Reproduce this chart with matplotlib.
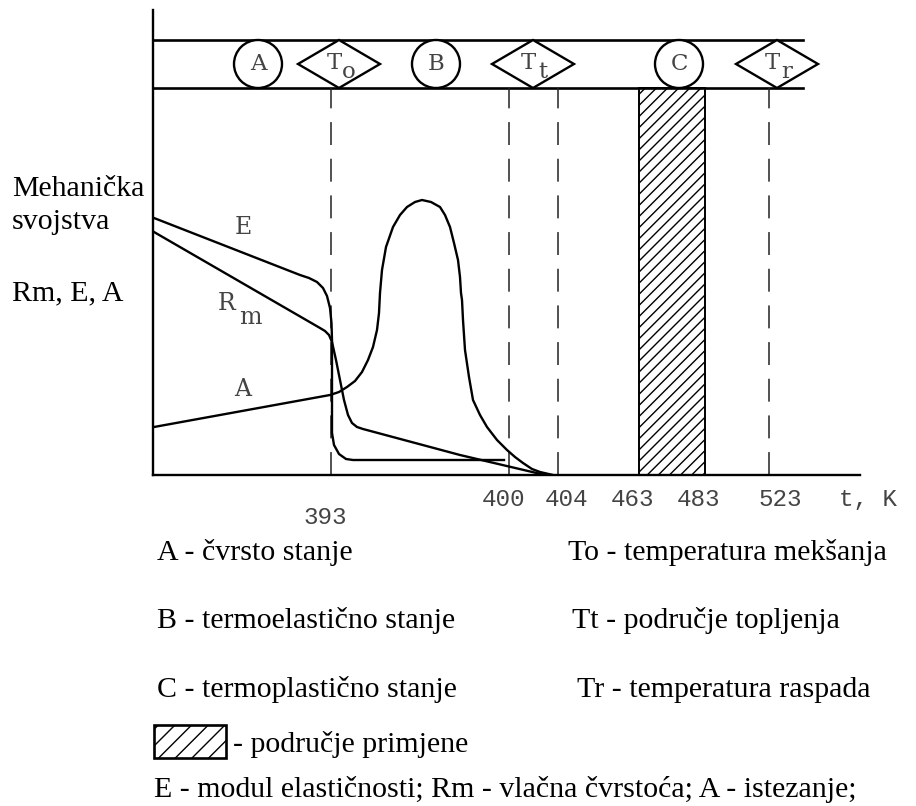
import matplotlib
matplotlib.use("agg")
import matplotlib.pyplot as plt
from matplotlib.patches import Circle, Polygon, Rectangle

W, H = 916, 806

# Schematic x position (px from y-axis) for each marked temperature
temps = ["393", "400", "404", "463", "483", "523"]
temp_x = [178, 356, 405, 486, 552, 616]

# Curves (x, height above the axis)
e_x = [1, 147, 156, 164, 170, 174, 177, 178.5, 179, 179, 181, 186, 193, 200, 351]
e_y = [257, 200, 197, 193, 187, 179, 167, 152, 135, 42, 30, 21, 16, 15, 15]

rm_x = [1, 167, 172, 176, 179, 183, 187, 191, 195, 199, 204, 210, 307, 392]
rm_y = [243, 147, 144, 140, 133, 115, 95, 75, 60, 52, 48, 46, 20, 0]

a_x = [1, 177, 186, 194, 202, 209, 215, 220, 224, 226, 227, 229, 233, 240,
       247, 254, 262, 269, 278, 287, 292, 297, 301, 305, 307, 308, 309, 310,
       312, 316, 320, 327, 334, 344, 354, 362, 370, 379, 387, 400]
a_y = [48, 80, 83, 88, 94, 103, 115, 128, 145, 162, 182, 205, 228, 248,
       260, 268, 273, 275, 273, 268, 260, 248, 232, 215, 198, 182, 175, 155,
       125, 98, 75, 60, 48, 35, 25, 18, 12, 6, 3, 0]

# Band of states: circles for regions, diamonds for temperatures
states = ["A", "B", "C"]
state_x = [105, 283, 526]
marks = ["T", "T", "T"]
mark_sub = ["o", "t", "r"]
mark_x = [186, 380, 624]

legend_left = ["A - čvrsto stanje", "B - termoelastično stanje",
               "C - termoplastično stanje"]
legend_right = ["To - temperatura mekšanja", "Tt - područje topljenja",
                "Tr - temperatura raspada"]

fig = plt.figure(figsize=(W / 100, H / 100), dpi=100)
ax = fig.add_axes([153 / W, (H - 475) / H, (860 - 153) / W, (475 - 10) / H])
ax.set_xlim(0, 707)
ax.set_ylim(0, 465)
for s in ["top", "right"]:
    ax.spines[s].set_visible(False)
for s in ["left", "bottom"]:
    ax.spines[s].set_linewidth(1.7)
ax.set_xticks([])
ax.set_yticks([])


def px(x, y):
    return x / W, 1 - y / H


band_lo, band_hi = 387, 435
band_mid = (band_lo + band_hi) / 2
ax.plot([0, 650], [band_hi, band_hi], color="black", lw=1.9, clip_on=False)
ax.plot([0, 650], [band_lo, band_lo], color="black", lw=1.9, clip_on=False)

# dashed temperature lines
dash = (0, (15, 9))
for i, x in enumerate(temp_x):
    if temps[i] in ("463", "483"):
        continue
    ax.plot([x, x], [0, band_lo], color="#222222", lw=1.1, linestyle=dash)

# application range (hatched)
ax.add_patch(Rectangle((temp_x[3], 0), temp_x[4] - temp_x[3], band_lo,
                       facecolor="white", edgecolor="black", lw=1.4,
                       hatch="///"))

mono_lbl = dict(family="DejaVu Serif", color="#444444", fontsize=16.5)
for lbl, x in zip(states, state_x):
    ax.add_patch(Circle((x, band_mid), 24, facecolor="white",
                        edgecolor="black", lw=1.7, zorder=3))
    ax.text(x, band_mid, lbl, ha="center", va="center", zorder=4, **mono_lbl)

for t, sub, x in zip(marks, mark_sub, mark_x):
    ax.add_patch(Polygon([(x - 41, band_mid), (x, band_hi), (x + 41, band_mid),
                          (x, band_lo)], closed=True, facecolor="white",
                         edgecolor="black", lw=1.7, zorder=3, clip_on=False))
    ax.text(x - 5, band_mid + 1, t, ha="center", va="center", zorder=4,
            **mono_lbl)
    ax.text(x + 10, band_mid - 8, sub, ha="center", va="center", zorder=4,
            **mono_lbl)

ax.plot(e_x, e_y, color="black", lw=1.7)
ax.plot(rm_x, rm_y, color="black", lw=1.7)
ax.plot(a_x, a_y, color="black", lw=1.7)

curve_lbl = dict(family="DejaVu Serif", color="#444444", fontsize=17)
ax.text(90, 248, "E", ha="center", va="center", **curve_lbl)
ax.text(74, 171, "R", ha="center", va="center", **curve_lbl)
ax.text(97, 158, "m", ha="center", va="center", **curve_lbl)
ax.text(90, 86, "A", ha="center", va="center", **curve_lbl)

# temperature labels (393 sits lower, the rest on one row)
label_dx = [-6, -6, 8, -7, -7, 11]
for i, (t, x) in enumerate(zip(temps, temp_x)):
    y = -43 if t == "393" else -25
    ax.text(x + label_dx[i], y, t, ha="center", va="center", fontsize=17.5,
            family="Liberation Mono", color="#444444", clip_on=False)
ax.text(686, -25, "t, K", ha="left", va="center", fontsize=17.5,
        family="Liberation Mono", color="#444444", clip_on=False)

serif = dict(family="Liberation Serif", fontsize=21.5, color="black")
fig.text(*px(12, 196), "Mehanička", va="baseline", **serif)
fig.text(*px(12, 229), "svojstva", va="baseline", **serif)
fig.text(*px(12, 300), "Rm, E, A", va="baseline", **serif)

rows = [560, 628, 697]
right_left = [568, 572, 577]
for i in range(3):
    fig.text(*px(157, rows[i]), legend_left[i], va="baseline", **serif)
    fig.text(*px(right_left[i], rows[i]), legend_right[i], va="baseline",
             **serif)

fig.patches.append(Rectangle(px(154, 758), 72 / W, 33 / H,
                             transform=fig.transFigure, facecolor="white",
                             edgecolor="black", lw=1.9, hatch="//"))
fig.text(*px(233, 752), "- područje primjene", va="baseline", **serif)
fig.text(*px(154, 797),
         "E - modul elastičnosti; Rm - vlačna čvrstoća; A - istezanje;",
         va="baseline", **serif)

fig.savefig("out.png", dpi=100)
